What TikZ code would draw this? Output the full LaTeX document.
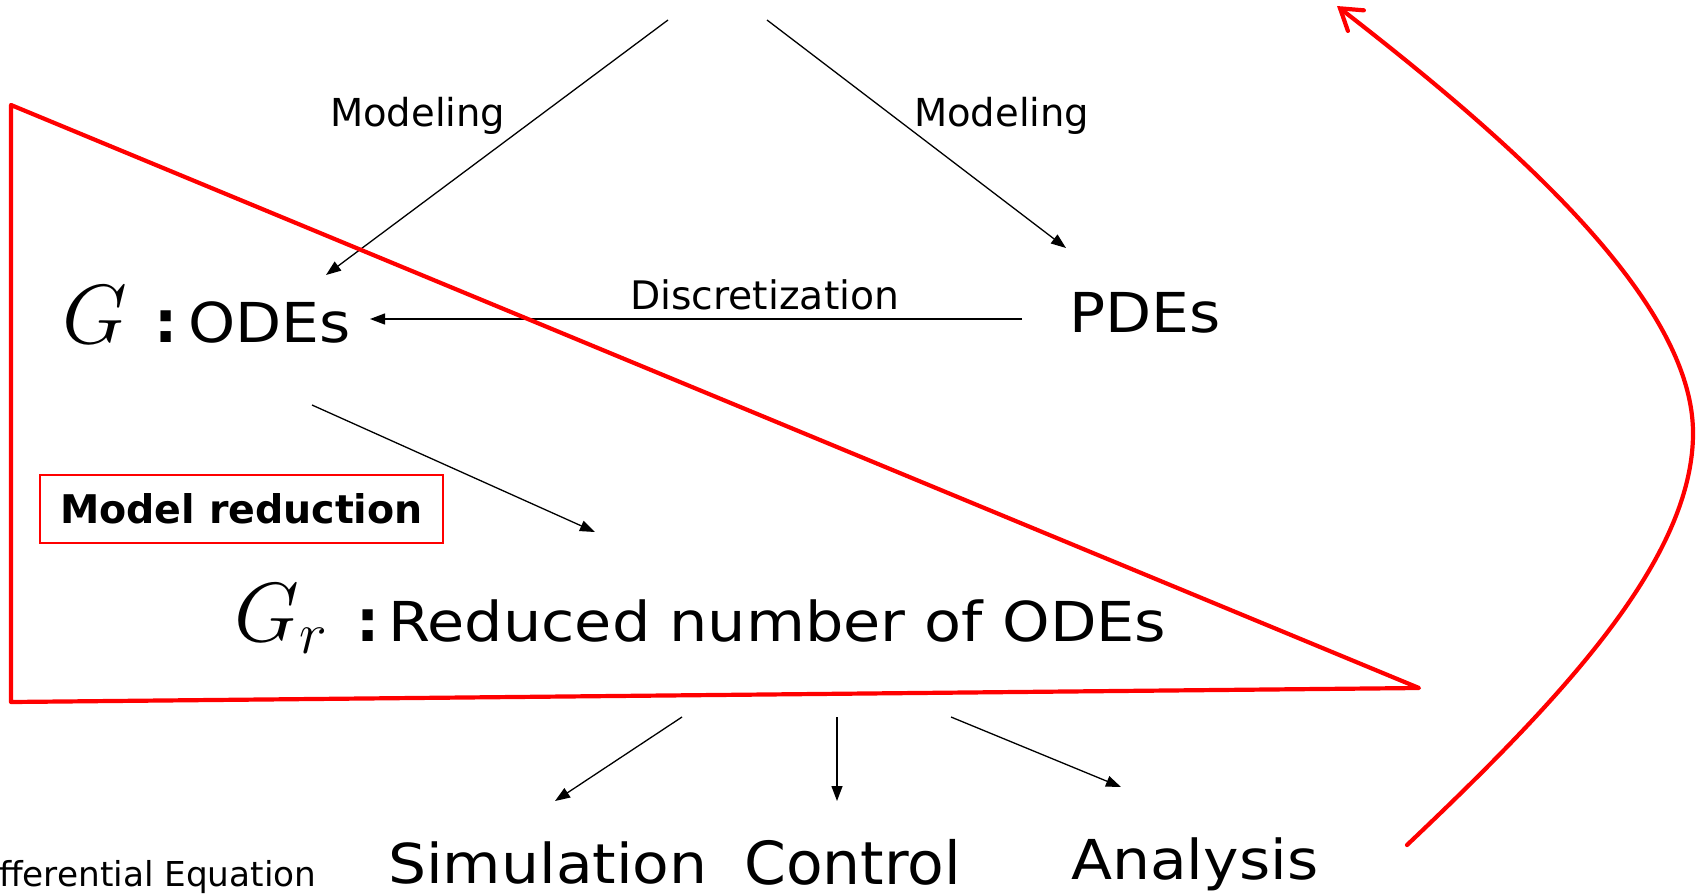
\RequirePackage{fix-cm}
\documentclass[tikz,border=0pt]{standalone}
\usepackage{graphicx}
\usepackage{fontspec}
\setmainfont{DejaVu Sans}
\usetikzlibrary{arrows.meta}
\newcommand\bigtxt[1]{\scalebox{1.09}[1]{#1}}
\begin{document}
\begin{tikzpicture}[x=1pt,y=-1pt,
  lbl/.style={inner sep=0pt, anchor=base west},
  bigf/.style={font=\fontsize{55}{55}\selectfont},
  midf/.style={font=\fontsize{38.5}{38.5}\selectfont},
  mathf/.style={font=\fontsize{84}{84}\selectfont},
  colonf/.style={font=\fontsize{58}{58}\selectfont\bfseries},
  conn/.style={line width=1.3pt, -{Triangle[length=15pt,width=11pt]}},
  redline/.style={draw=red, line width=4.2pt}]
\useasboundingbox (0,0) rectangle (1705,895);
\clip (0,0) rectangle (1705,895);

% texts
\node[lbl,midf] (mod1) at (330,126) {Modeling};
\node[lbl,midf] (mod2) at (914,126) {Modeling};
\node[lbl,font=\fontsize{39.3}{39.3}\selectfont] (disc) at (630,309) {Discretization};
\node[lbl,mathf] (G) at (62,343) {$G$};
\node[lbl,colonf] (c1) at (154,342) {:};
\node[lbl,bigf] (odes) at (188,342) {\bigtxt{ODEs}};
\node[lbl,bigf] (pdes) at (1069,332) {\bigtxt{PDEs}};
\node[lbl,mathf] (Gr) at (234,641) {$G_r$};
\node[lbl,colonf] (c2) at (356,641) {:};
\node[lbl,bigf] (redode) at (388,641) {\scalebox{1.1}[1]{Reduced number of ODEs}};
\node[draw=red, line width=1.5pt, minimum width=403pt, minimum height=68pt,
      inner sep=0pt, font=\bfseries\fontsize{39.5}{39.5}\selectfont] (mr) at (241.5,509) {Model reduction};
\node[lbl,bigf] (sim) at (388,883) {\bigtxt{Simulation}};
\node[lbl,bigf] (ctrl) at (744,884) {\scalebox{1.09}[1.08]{Control}};
\node[lbl,bigf] (ana) at (1071,879) {\bigtxt{Analysis}};
\node[lbl,font=\fontsize{34.3}{34.3}\selectfont] (deq) at (-1,886) {fferential Equation};

% connector end points
\coordinate (src1) at (668,20);
\coordinate (src2) at (767,20);
\coordinate (odesIn) at (326,275);
\coordinate (pdesIn) at (1066,248);
\coordinate (discS) at (1022,319);
\coordinate (discE) at (370,319);
\coordinate (redS) at (312,405);
\coordinate (redE) at (595,532);
\coordinate (b1s) at (682,717);
\coordinate (b1e) at (555,801);
\coordinate (b2s) at (837,717);
\coordinate (b2e) at (837,801);
\coordinate (b3s) at (951,717);
\coordinate (b3e) at (1121,787);

\draw[conn] (src1) -- (odesIn);
\draw[conn] (src2) -- (pdesIn);
\draw[conn] (discS) -- (discE);
\draw[conn] (redS) -- (redE);
\draw[conn] (b1s) -- (b1e);
\draw[conn] (b2s) -- (b2e);
\draw[conn] (b3s) -- (b3e);

% red triangle
\coordinate (t1) at (11,105);
\coordinate (t2) at (11,702);
\coordinate (t3) at (1419,688);
\draw[redline, line join=round] (t1) -- (t2) -- (t3) -- cycle;

% red curved arrow
\coordinate (cs) at (1407,845);
\coordinate (cm) at (1693,433);
\coordinate (ce) at (1337,6);
\draw[redline, line cap=round, -{Straight Barb[length=20pt,width=26pt,line cap=round]}]
  (cs) .. controls (1560,700) and (1693,560) .. (cm)
       .. controls (1693,300) and (1510,140) .. (ce);
\end{tikzpicture}
\end{document}
